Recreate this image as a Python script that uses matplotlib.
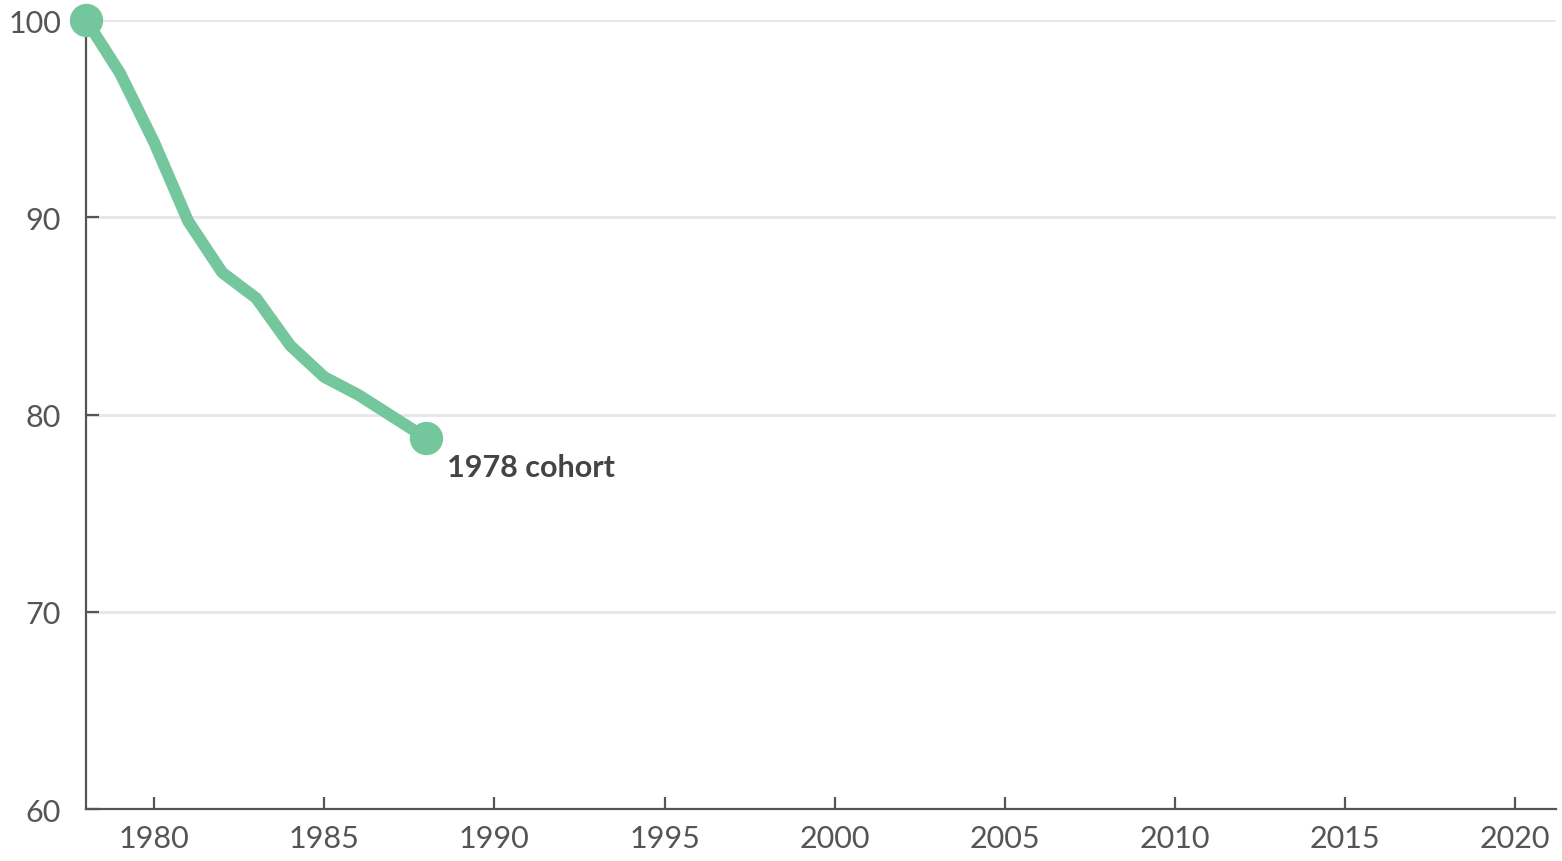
import matplotlib
matplotlib.use('agg')
import matplotlib.pyplot as plt

# share of the 1978 cohort still present, indexed to 100
years = [1978, 1979, 1980, 1981, 1982, 1983, 1984, 1985, 1986, 1987, 1988]
share = [100, 97.3, 93.8, 89.8, 87.2, 85.9, 83.5, 81.9, 81.0, 79.9, 78.8]
cohort_label = '1978 cohort'

xticks = [1980, 1985, 1990, 1995, 2000, 2005, 2010, 2015, 2020]
yticks = [60, 70, 80, 90, 100]

green = '#74c69d'
axis_col = '#555555'

plt.rcParams['font.family'] = ['Lato', 'DejaVu Sans']

fig = plt.figure(figsize=(15.62, 8.62), dpi=100)
ax = fig.add_axes([0.0551, 0.0603, 0.9411, 0.9153])

for y in yticks[1:]:
    ax.axhline(y, color='#e8e8e8', lw=2.2, zorder=0)

ax.plot(years, share, color=green, lw=8.5, solid_joinstyle='round',
        solid_capstyle='round', zorder=3, clip_on=False)
ax.plot([years[0], years[-1]], [share[0], share[-1]], 'o', color=green,
        ms=23, zorder=4, clip_on=False)
ax.annotate(cohort_label, (years[-1], share[-1]), xytext=(15, -21),
            textcoords='offset points', ha='left', va='center',
            fontsize=22, fontweight='bold', color='#444444')

ax.set_xlim(1978, 2021.2)
ax.set_ylim(60, 100)
ax.set_xticks(xticks)
ax.set_yticks(yticks)

for side in ['top', 'right']:
    ax.spines[side].set_visible(False)
for side in ['left', 'bottom']:
    ax.spines[side].set_color(axis_col)
    ax.spines[side].set_linewidth(1.6)

ax.tick_params(direction='in', length=9, width=1.6, color=axis_col,
               labelcolor=axis_col, labelsize=22)
ax.tick_params(axis='x', pad=11)
ax.tick_params(axis='y', pad=18)

fig.savefig('out.png', dpi=100)
